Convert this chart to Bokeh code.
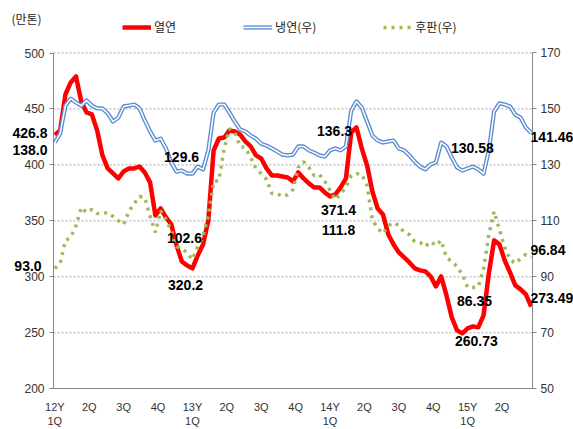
from bokeh.plotting import figure
from bokeh.models import Range1d, LinearAxis, FixedTicker, Legend, LegendItem, Label
from bokeh.embed import file_html
from bokeh.resources import INLINE

# ---------------- data ----------------
weeks = list(range(0, 181, 2))  # week index from 12Y 1Q

hot_rolled = [  # 열연 (left axis, 만톤)
    426.8, 430.8, 462.9, 473.7, 479.0, 456.7, 446.9, 445.1, 430.8, 408.5,
    396.9, 392.4, 387.9, 394.2, 396.9, 396.9, 398.6, 393.3, 384.4, 354.9,
    361.1, 353.1, 346.9, 328.1, 313.8, 310.2, 307.6, 319.2, 329.0, 350.4,
    412.9, 423.6, 424.5, 430.8, 429.9, 427.2, 421.0, 416.5, 408.5, 405.8,
    396.9, 390.6, 390.6, 389.7, 388.8, 385.3, 393.3, 387.9, 383.5, 379.9,
    379.9, 375.4, 371.9, 373.6, 379.9, 387.9, 429.0, 433.5, 414.7, 399.5,
    376.3, 361.1, 355.8, 337.9, 329.0, 321.8, 317.4, 312.9, 307.6, 305.8,
    304.9, 300.4, 291.5, 300.4, 283.4, 263.8, 252.2, 249.5, 254.0, 255.8,
    254.9, 265.6, 303.1, 332.6, 329.0, 314.7, 304.0, 292.4, 288.8, 284.3,
    273.49]

cold_rolled = [  # 냉연 (right axis)
    138.0, 141.2, 151.2, 153.7, 152.3, 151.2, 153.0, 151.2, 150.2, 150.2,
    148.4, 145.5, 146.9, 150.9, 151.2, 151.6, 150.2, 145.9, 142.0, 138.7,
    139.4, 135.9, 130.9, 127.6, 128.0, 126.9, 126.9, 129.4, 128.4, 135.2,
    148.7, 151.6, 151.6, 148.7, 145.5, 142.7, 142.0, 140.5, 139.4, 137.6,
    136.9, 135.9, 134.8, 133.7, 133.4, 133.7, 136.6, 136.6, 135.2, 134.4,
    133.4, 133.0, 135.2, 135.9, 135.2, 136.6, 149.4, 152.7, 150.5, 145.5,
    140.5, 138.7, 138.0, 138.4, 138.7, 135.9, 135.2, 133.4, 131.2, 129.4,
    128.4, 130.2, 130.9, 138.0, 136.6, 132.7, 129.1, 128.0, 128.7, 129.4,
    128.4, 126.9, 135.2, 149.1, 152.0, 151.6, 150.9, 148.0, 146.9, 143.4,
    141.46]

plate = [  # 후판 (right axis)
    93.0, 94.8, 103.0, 104.1, 108.3, 114.8, 113.0, 114.1, 112.6, 112.6,
    113.0, 111.6, 110.1, 108.7, 113.4, 116.2, 118.7, 118.4, 111.6, 105.9,
    113.7, 110.5, 106.6, 100.8, 100.1, 98.7, 96.2, 100.8, 104.4, 111.9,
    124.1, 124.4, 135.9, 143.0, 141.6, 136.6, 136.2, 132.7, 128.7, 126.9,
    124.8, 119.8, 119.8, 118.7, 119.4, 121.2, 129.1, 131.2, 129.1, 126.2,
    126.6, 124.1, 120.9, 117.6, 119.8, 121.9, 126.2, 126.9, 126.6, 122.6,
    110.5, 107.3, 105.5, 108.3, 109.4, 108.3, 105.9, 105.1, 102.6, 102.3,
    100.8, 102.6, 101.2, 103.0, 96.9, 95.5, 93.7, 90.8, 86.2, 86.2,
    86.5, 92.6, 105.1, 113.4, 106.9, 100.5, 96.2, 94.8, 96.5, 98.0,
    96.84]

quarter_ticks = [0, 13, 26, 39, 52, 65, 78, 91, 104, 117, 130, 143, 156, 169]
quarter_labels = ["12Y\n1Q", "2Q", "3Q", "4Q", "13Y\n1Q", "2Q", "3Q", "4Q",
                  "14Y\n1Q", "2Q", "3Q", "4Q", "15Y\n1Q", "2Q"]
left_ticks = [200, 250, 300, 350, 400, 450, 500]
right_ticks = [50, 70, 90, 110, 130, 150, 170]

series_names = ["열연", "냉연(우)", "후판(우)"]
unit_label = "(만톤)"

# value callouts (text, week position, left-axis level, alignment)
callout_text = ["426.8", "138.0", "93.0", "129.6", "102.6", "320.2", "136.3",
                "371.4", "111.8", "130.58", "86.35", "260.73", "141.46",
                "96.84", "273.49"]
callout_x = [-2.8, -2.8, -5.0, 47.9, 49.0, 49.4, 105.7, 107.2, 107.2,
             157.8, 158.6, 159.3, 179.7, 179.7, 179.7]
callout_y = [428.1, 412.9, 309.3, 407.5, 334.3, 292.3, 429.9, 359.3, 342.3,
             414.7, 278.0, 242.3, 425.4, 323.6, 280.7]
callout_align = ["right", "right", "right", "center", "center", "center",
                 "center", "center", "center", "center", "center", "center",
                 "left", "left", "left"]

NUM_FONT = "Liberation Sans"
KR_FONT = "Noto Sans CJK KR"

# category axis extent (half a week of padding each side, as in Excel)
x_lo, x_hi = -0.5, 180.5
# whole canvas is the frame; axes are pinned inside it so nothing is clipped
p = figure(width=573, height=429, output_backend="svg", toolbar_location=None,
           x_range=Range1d(-20.527, 195.993), y_range=Range1d(163.639, 546.903),
           min_border=0, outline_line_color=None,
           background_fill_color="white", border_fill_color="white")
p.extra_y_ranges = {"right": Range1d(35.456, 188.761)}

# axes
p.yaxis.ticker = FixedTicker(ticks=left_ticks)
p.yaxis.fixed_location = x_lo
p.yaxis.bounds = (left_ticks[0], left_ticks[-1])
p.xaxis.ticker = FixedTicker(ticks=quarter_ticks)
p.xaxis.major_label_overrides = {t: l for t, l in zip(quarter_ticks, quarter_labels)}
p.xaxis.fixed_location = left_ticks[0]
p.xaxis.bounds = (x_lo, x_hi)
right_axis = LinearAxis(y_range_name="right", ticker=FixedTicker(ticks=right_ticks))
right_axis.fixed_location = x_hi
right_axis.bounds = (right_ticks[0], right_ticks[-1])
p.add_layout(right_axis, "right")

for ax in [p.yaxis[0], right_axis]:
    ax.axis_line_color = "#868686"
    ax.major_tick_line_color = "#868686"
    ax.major_tick_in = 0
    ax.major_tick_out = 4
    ax.minor_tick_line_color = None
    ax.major_label_text_font = NUM_FONT
    ax.major_label_text_font_size = "12px"
    ax.major_label_text_color = "#333333"
p.yaxis.major_label_standoff = 5
right_axis.major_label_standoff = 4

p.xaxis.axis_line_color = "#868686"
p.xaxis.major_tick_line_color = None
p.xaxis.minor_tick_line_color = None
p.xaxis.major_label_text_font = NUM_FONT
p.xaxis.major_label_text_font_size = "11px"
p.xaxis.major_label_text_color = "#333333"
p.xaxis.major_label_standoff = 6

p.xgrid.visible = False
p.ygrid.visible = False
grid_levels = left_ticks[1:]
p.segment(x0=[x_lo] * len(grid_levels), x1=[x_hi] * len(grid_levels),
          y0=grid_levels, y1=grid_levels, line_color="#A6A6A6",
          line_dash="2 2", line_width=1)

# series
r_red = p.line(weeks, hot_rolled, line_color="#FF0000", line_width=4.5,
               line_join="round")
r_blue_o = p.line(weeks, cold_rolled, y_range_name="right",
                  line_color="#5B8BD0", line_width=4.2, line_join="round")
r_blue_i = p.line(weeks, cold_rolled, y_range_name="right",
                  line_color="white", line_width=1.5, line_join="round")
r_green = p.line(weeks, plate, y_range_name="right", line_color="#9BBB59",
                 line_width=3.5, line_dash="3 5")

legend = Legend(items=[
    LegendItem(label=series_names[0], renderers=[r_red]),
    LegendItem(label=series_names[1], renderers=[r_blue_o, r_blue_i]),
    LegendItem(label=series_names[2], renderers=[r_green]),
], orientation="horizontal", location=(122, 394),
    border_line_color=None, background_fill_alpha=0, padding=0, margin=0,
    spacing=67, glyph_width=29, glyph_height=12, label_standoff=3,
    label_text_font=KR_FONT, label_text_font_size="12px",
    label_text_color="#222222")
p.add_layout(legend)

p.add_layout(Label(x=-16.4, y=530.8, text=unit_label, text_font=KR_FONT,
                   text_font_size="12px", text_color="#222222",
                   text_baseline="middle", text_align="left"))

for t, x, y, a in zip(callout_text, callout_x, callout_y, callout_align):
    p.add_layout(Label(x=x, y=y, text=t, text_align=a, text_baseline="middle",
                       text_font=NUM_FONT, text_font_style="bold",
                       text_font_size="14px", text_color="#000000"))

open("out.html", "w").write(file_html(p, INLINE))
